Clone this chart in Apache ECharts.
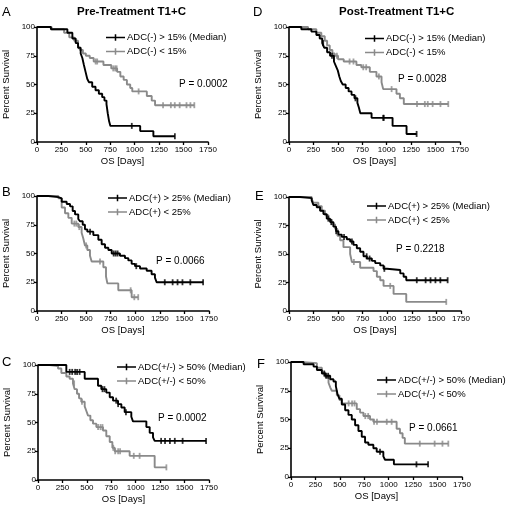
<!DOCTYPE html>
<html>
<head>
<meta charset="utf-8">
<script src="https://cdn.jsdelivr.net/npm/echarts@6/dist/echarts.min.js"></script>
<style>html,body{margin:0;padding:0;background:#fff}#c{width:507px;height:509px}</style>
</head>
<body>
<div id="c"></div>
<script>
// ---- tick labels ----
const xTicks = [0, 250, 500, 750, 1000, 1250, 1500, 1750];
const yTicks = [0, 25, 50, 75, 100];

// ---- Panel A: Pre-Treatment, ADC(-) ----
const A_hi = [[142,98],[311,95],[362,90],[396,86],[420,82],[447,77],[464,73],[480,67],[497,61],[514,55],[531,52],[565,48],[599,45],[633,42],[667,39],[690,36],[711,33],[724,25],[738,18],[751,14],[1056,9.5],[1191,5]];
const A_hiC = [970, 1411];
const A_lo = [[150,98],[277,95],[330,91],[380,88],[420,84],[440,80],[470,77],[500,75],[540,73],[580,70],[680,67],[760,64],[820,61],[853,57],[887,54],[920,50],[954,47],[975,44],[1124,40],[1174,36],[1208,32]];
const A_loC = [600, 616, 780, 800, 815, 1040, 1290, 1370, 1410, 1460, 1530, 1570, 1610];

// ---- Panel D: Post-Treatment, ADC(-) ----
const D_hi = [[126,98],[229,96],[280,93],[314,90],[340,86],[360,82],[390,78],[420,75],[460,70],[480,66],[500,62],[515,57],[530,53],[550,50],[580,47],[610,44],[640,41],[670,38],[700,34],[715,30],[730,25],[845,21],[1060,14],[1203,7]];
const D_hiC = [350, 440, 680, 964, 970, 1306];
const D_lo = [[195,98],[280,95],[331,92],[366,88],[390,84],[417,80],[444,77],[468,75],[502,72],[560,70],[690,67],[740,65],[827,61],[895,57],[947,52],[964,46],[1100,42],[1135,38],[1175,33]];
const D_loC = [490, 620, 660, 760, 790, 920, 1050, 1310, 1390, 1420, 1470, 1550, 1630];

// ---- Panel B: Pre-Treatment, ADC(+) ----
const B_hi = [[115,99],[217,98],[251,95],[302,93],[336,91],[363,87],[387,84],[420,80],[437,78],[465,75],[488,71],[512,69],[573,66],[624,62],[658,58],[692,55],[726,53],[760,50],[844,48],[895,46],[929,44],[963,41],[997,39],[1048,37],[1116,35],[1166,32],[1200,29],[1217,25]];
const B_hiC = [540, 780, 800, 820, 1010, 1300, 1380, 1430, 1480, 1560, 1690];
const B_lo = [[217,98],[251,90],[285,85],[319,81],[353,76],[420,73],[454,68],[471,63],[488,57],[512,53],[539,48],[556,43],[675,38],[702,30],[716,24],[827,18],[963,12]];
const B_loC = [380, 400, 430, 500, 641, 953, 990, 1030];

// ---- Panel E: Post-Treatment, ADC(+) ----
const E_hi = [[112,99],[231,97],[248,93],[282,91],[316,88],[350,85],[384,81],[418,78],[452,74],[479,70],[503,67],[537,65],[588,63],[622,61],[656,58],[690,55],[724,52],[758,48],[792,46],[843,44],[877,42],[928,40],[962,37],[996,36],[1132,33],[1166,30],[1193,27]];
const E_hiC = [400, 430, 480, 560, 640, 790, 820, 970, 1300, 1390, 1440, 1490, 1540, 1614];
const E_lo = [[231,98],[248,95],[299,92],[333,88],[367,84],[401,80],[435,76],[469,72],[493,66],[520,62],[554,56],[622,50],[640,43],[724,38],[860,35],[894,30],[928,27],[962,22],[1064,15],[1193,8]];
const E_loC = [660, 1030, 1600];

// ---- Panel C: Pre-Treatment, ADC(+/-) ----
const C_hi = [[290,94],[478,88],[614,82],[648,79],[699,76],[734,72],[768,69],[819,66],[853,63],[887,59],[955,55],[972,51],[1109,46],[1143,41],[1177,37],[1194,34]];
const C_hiC = [324, 350, 380, 400, 426, 660, 680, 800, 820, 900, 1260, 1300, 1350, 1400, 1480, 1720];
const C_lo = [[119,99],[205,97],[239,93],[290,90],[324,88],[358,84],[375,79],[399,75],[420,71],[443,68],[478,64],[495,60],[512,56],[536,52],[563,49],[597,46],[665,43],[699,38],[734,33],[761,28],[785,25],[938,21],[1194,11]];
const C_loC = [370, 450, 615, 640, 660, 770, 790, 820, 840, 980, 1040, 1314];

// ---- Panel F: Post-Treatment, ADC(+/-) ----
const F_hi = [[129,98],[231,96],[265,93],[316,90],[350,88],[401,85],[435,83],[459,79],[476,72],[496,68],[520,63],[554,58],[588,54],[622,50],[656,45],[690,40],[724,35],[758,30],[792,28],[843,25],[877,22],[945,18],[962,15],[1053,11]];
const F_hiC = [340, 360, 380, 911, 1284, 1403];
const F_lo = [[95,99],[265,95],[316,91],[350,87],[384,82],[401,78],[418,75],[469,71],[496,67],[520,64],[673,59],[707,56],[741,53],[809,50],[843,48],[1081,42],[1115,38],[1142,34],[1165,29]];
const F_loC = [590, 625, 650, 760, 790, 850, 880, 980, 1030, 1318, 1470, 1550, 1610];

const panelNames = {
  A: ['ADC(-) > 15% (Median)', 'ADC(-) < 15%'],
  B: ['ADC(+) > 25% (Median)', 'ADC(+) < 25%'],
  C: ['ADC(+/-) > 50% (Median)', 'ADC(+/-) < 50%']
};
const pValues = { A: 'P = 0.0002', D: 'P = 0.0028', B: 'P = 0.0066', E: 'P = 0.2218', C: 'P = 0.0002', F: 'P = 0.0661' };
const columnTitles = ['Pre-Treatment T1+C', 'Post-Treatment T1+C'];

// ---------- build ----------
const FONT = 'Liberation Sans, Arial, sans-serif';
const BLACK = '#000000', GRAY = '#8a8a8a';

function stepAt(ev, t) {
  let v = 100;
  for (const [tt, s] of ev) { if (tt <= t) v = s; }
  return v;
}
function curveData(ev, cens) {
  const d = [[0, 100]].concat(ev);
  const lastT = Math.max(ev[ev.length - 1][0], ...cens);
  if (lastT > ev[ev.length - 1][0]) d.push([lastT, ev[ev.length - 1][1]]);
  return d;
}

const panels = [
  { id: 'A', names: panelNames.A, hi: A_hi, hiC: A_hiC, lo: A_lo, loC: A_loC,
    grid: { left: 36, top: 27, width: 172, height: 115 }, legend: { left: 106, top: 32.5 }, p: { left: 179, top: 79 }, letter: { left: 2, top: 6 } },
  { id: 'D', names: panelNames.A, hi: D_hi, hiC: D_hiC, lo: D_lo, loC: D_loC,
    grid: { left: 289, top: 27, width: 171, height: 115 }, legend: { left: 365, top: 33.5 }, p: { left: 398, top: 74 }, letter: { left: 253, top: 6 } },
  { id: 'B', names: panelNames.B, hi: B_hi, hiC: B_hiC, lo: B_lo, loC: B_loC,
    grid: { left: 37, top: 196, width: 172, height: 115 }, legend: { left: 108, top: 193 }, p: { left: 156, top: 256 }, letter: { left: 2, top: 186 } },
  { id: 'E', names: panelNames.B, hi: E_hi, hiC: E_hiC, lo: E_lo, loC: E_loC,
    grid: { left: 289, top: 197, width: 172, height: 114 }, legend: { left: 367, top: 201 }, p: { left: 396, top: 244 }, letter: { left: 255, top: 190 } },
  { id: 'C', names: panelNames.C, hi: C_hi, hiC: C_hiC, lo: C_lo, loC: C_loC,
    grid: { left: 38, top: 365, width: 171, height: 115 }, legend: { left: 117, top: 362 }, p: { left: 158, top: 413 }, letter: { left: 2, top: 356 } },
  { id: 'F', names: panelNames.C, hi: F_hi, hiC: F_hiC, lo: F_lo, loC: F_loC,
    grid: { left: 291, top: 362, width: 171, height: 115 }, legend: { left: 377, top: 375 }, p: { left: 409, top: 423 }, letter: { left: 257, top: 358 } }
];

const grids = [], xAxes = [], yAxes = [], series = [], legends = [], graphics = [];
const legendIcon = 'path://M0,4.2 L20,4.2 L20,5.8 L0,5.8 Z M9.2,1.5 L10.8,1.5 L10.8,8.5 L9.2,8.5 Z';

panels.forEach((p, i) => {
  grids.push(Object.assign({ containLabel: false }, p.grid));
  xAxes.push({
    gridIndex: i, type: 'value', min: xTicks[0], max: xTicks[xTicks.length - 1], interval: xTicks[1] - xTicks[0],
    name: 'OS [Days]', nameLocation: 'middle', nameGap: 14,
    nameTextStyle: { fontFamily: FONT, fontSize: 9.5, color: '#000' },
    axisLine: { onZero: false, lineStyle: { color: '#000', width: 1.6 } },
    axisTick: { show: true, length: 3, lineStyle: { color: '#000', width: 1.3 } },
    axisLabel: { fontFamily: FONT, fontSize: 8, color: '#000', margin: 4, formatter: v => String(v) },
    splitLine: { show: false }
  });
  yAxes.push({
    gridIndex: i, type: 'value', min: yTicks[0], max: yTicks[yTicks.length - 1], interval: yTicks[1] - yTicks[0],
    name: 'Percent Survival', nameLocation: 'middle', nameGap: 26,
    nameTextStyle: { fontFamily: FONT, fontSize: 9.5, color: '#000' },
    axisLine: { onZero: false, lineStyle: { color: '#000', width: 1.6 } },
    axisTick: { show: true, length: 3, lineStyle: { color: '#000', width: 1.3 } },
    axisLabel: { fontFamily: FONT, fontSize: 8, color: '#000', margin: 2, formatter: v => String(v) },
    splitLine: { show: false }
  });
  const nHi = p.names[0] + ' #' + p.id, nLo = p.names[1] + ' #' + p.id;
  series.push({
    type: 'line', name: nLo, xAxisIndex: i, yAxisIndex: i, step: 'end', symbol: 'none',
    data: curveData(p.lo, p.loC), lineStyle: { color: GRAY, width: 1.9 }, itemStyle: { color: GRAY }, z: 2, animation: false
  });
  series.push({
    type: 'scatter', name: 'cens-lo-' + p.id, xAxisIndex: i, yAxisIndex: i, symbol: 'rect', symbolSize: [1.8, 6],
    data: p.loC.map(t => [t, stepAt(p.lo, t)]), itemStyle: { color: GRAY }, z: 2, animation: false
  });
  series.push({
    type: 'line', name: nHi, xAxisIndex: i, yAxisIndex: i, step: 'end', symbol: 'none',
    data: curveData(p.hi, p.hiC), lineStyle: { color: BLACK, width: 1.9 }, itemStyle: { color: BLACK }, z: 3, animation: false
  });
  series.push({
    type: 'scatter', name: 'cens-hi-' + p.id, xAxisIndex: i, yAxisIndex: i, symbol: 'rect', symbolSize: [1.8, 6],
    data: p.hiC.map(t => [t, stepAt(p.hi, t)]), itemStyle: { color: BLACK }, z: 3, animation: false
  });
  legends.push({
    left: p.legend.left, top: p.legend.top, orient: 'vertical', itemWidth: 19, itemHeight: 8, itemGap: 4,
    padding: 0, selectedMode: false, icon: legendIcon,
    data: [{ name: nHi }, { name: nLo }],
    formatter: n => n.replace(/ #[A-F]$/, ''),
    textStyle: { fontFamily: FONT, fontSize: 9.5, color: '#000', padding: [0, 0, 0, -3] }
  });
  graphics.push({ type: 'text', left: p.p.left, top: p.p.top, style: { text: pValues[p.id], font: '10px ' + FONT, fill: '#000' } });
  graphics.push({ type: 'text', left: p.letter.left, top: p.letter.top, style: { text: p.id, font: '13px ' + FONT, fill: '#000' } });
});

graphics.push({ type: 'text', left: 77, top: 6, style: { text: columnTitles[0], font: 'bold 11.5px ' + FONT, fill: '#000' } });
graphics.push({ type: 'text', left: 339, top: 6, style: { text: columnTitles[1], font: 'bold 11.5px ' + FONT, fill: '#000' } });

const chart = echarts.init(document.getElementById('c'), null, { renderer: 'canvas' });
chart.setOption({
  animation: false,
  backgroundColor: '#fff',
  grid: grids, xAxis: xAxes, yAxis: yAxes, series: series, legend: legends, graphic: graphics
});
</script>
</body>
</html>
